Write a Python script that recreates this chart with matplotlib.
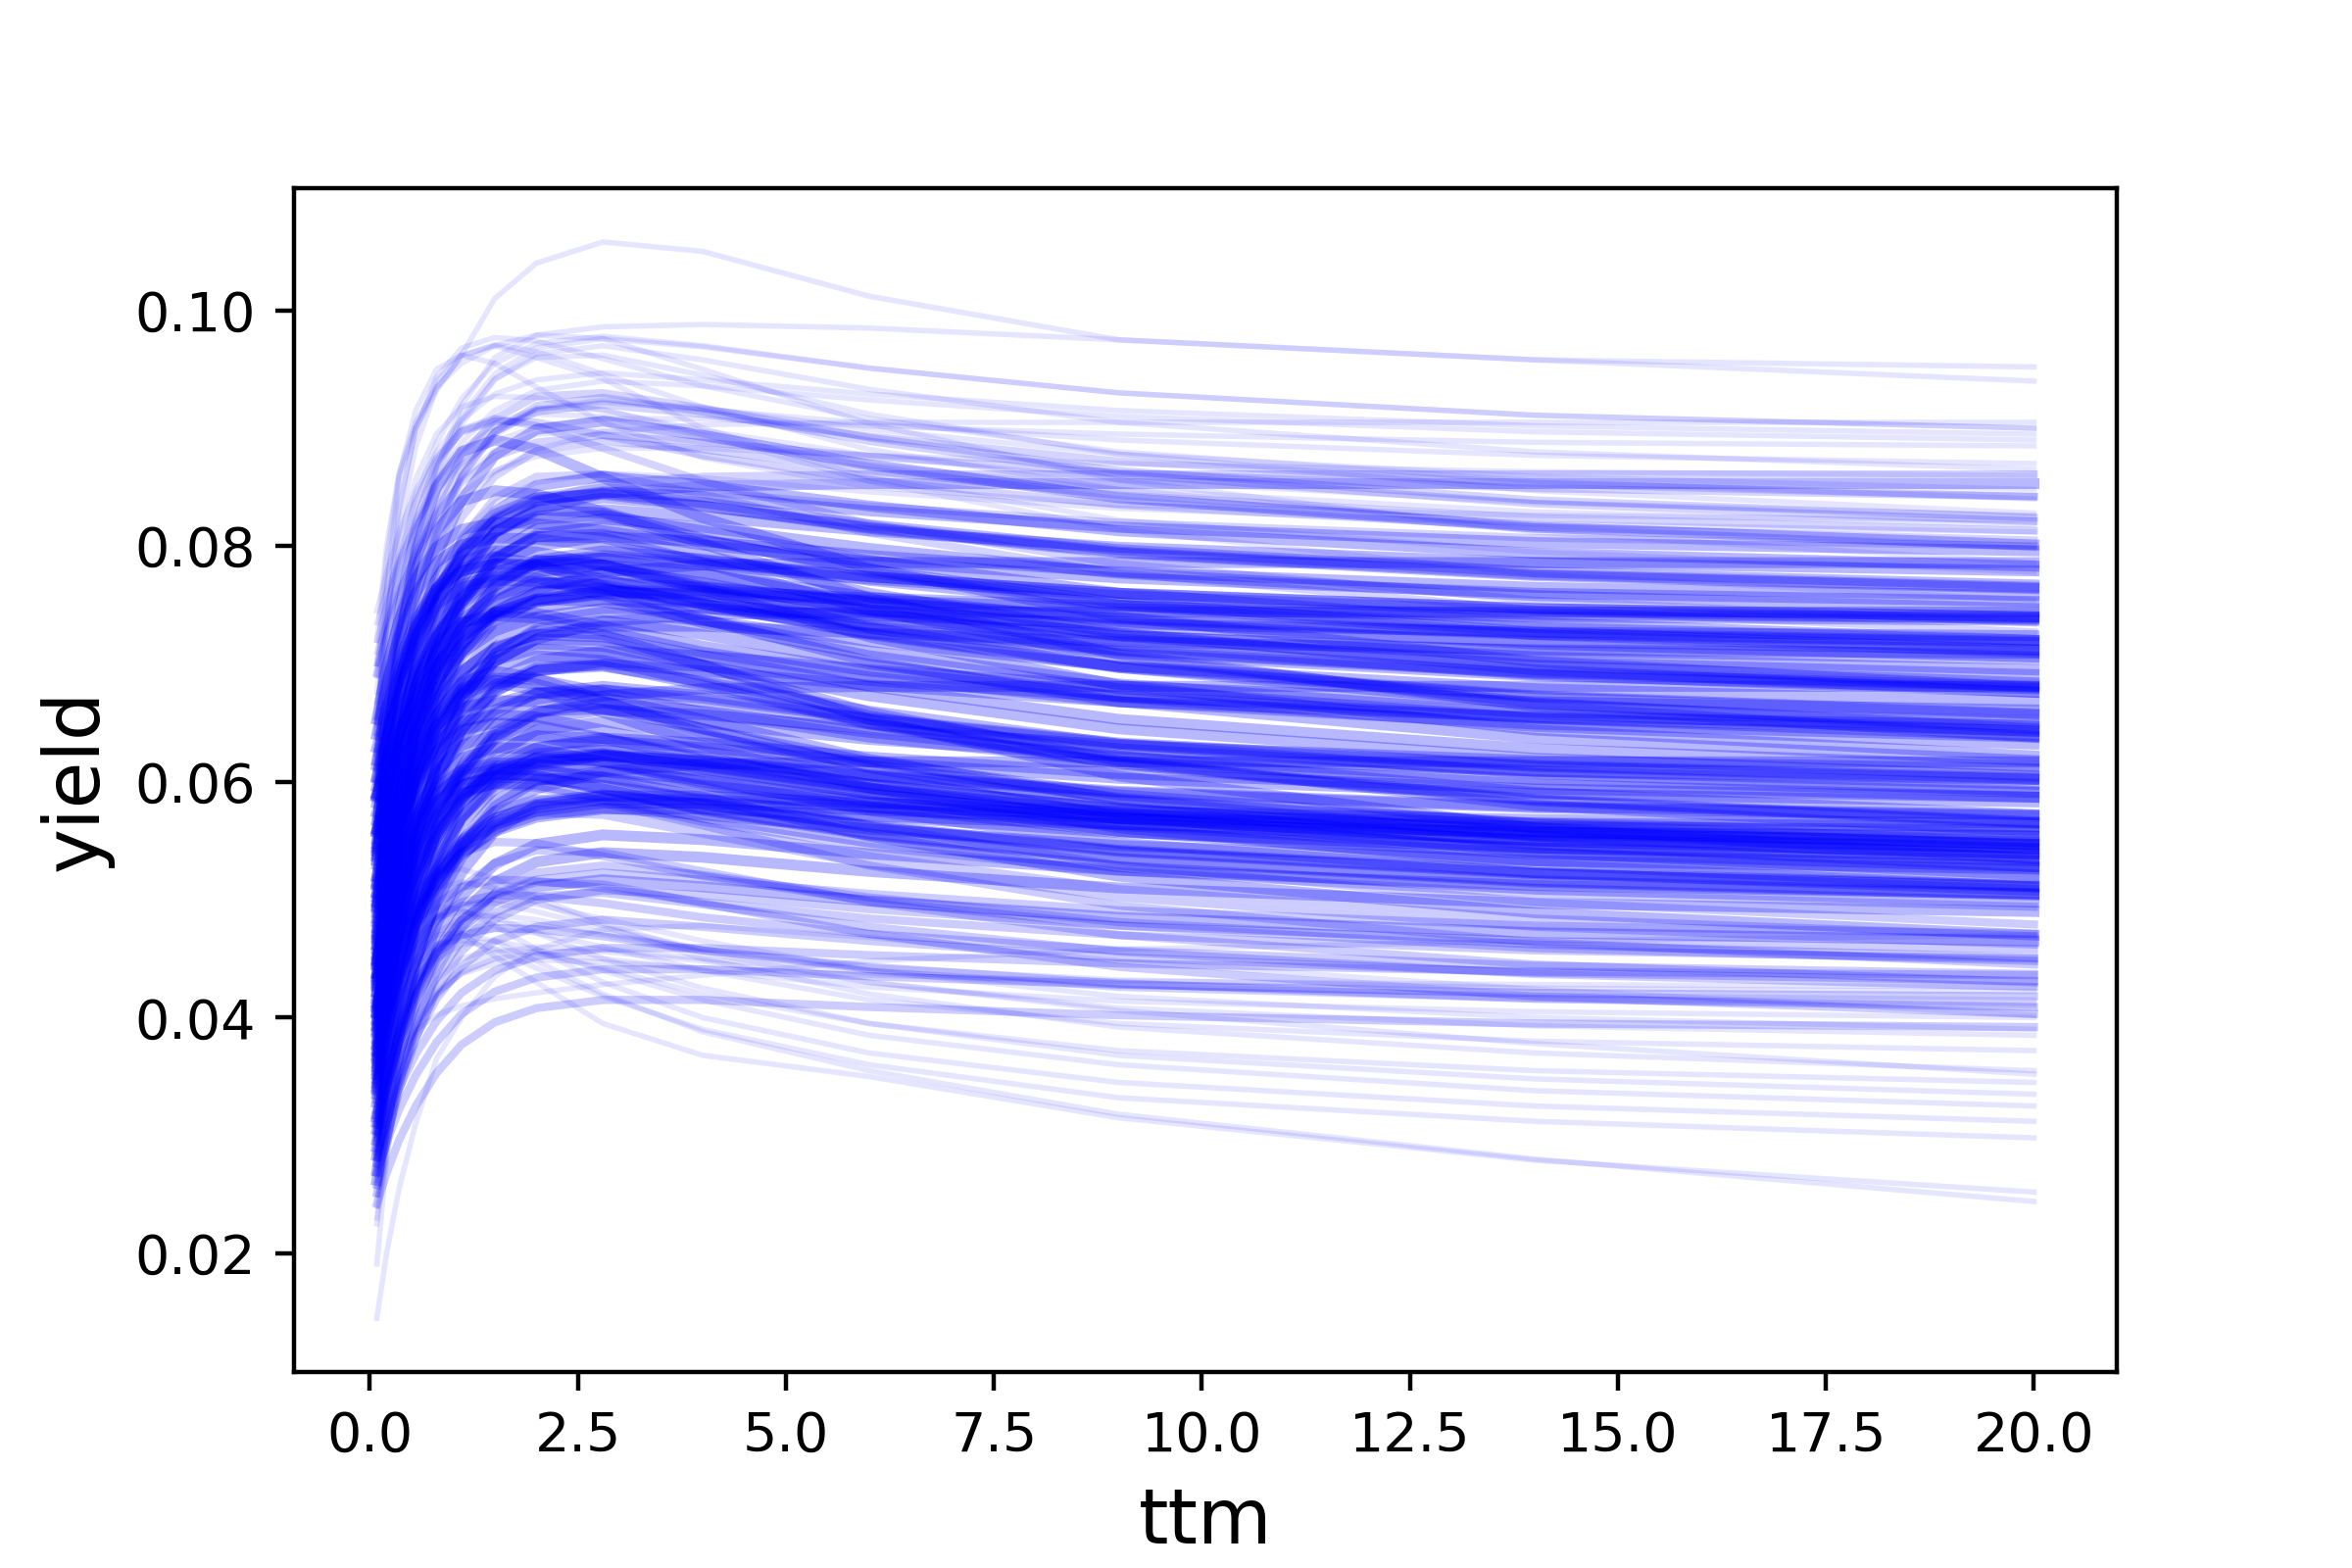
import numpy as np
import matplotlib
matplotlib.use("Agg")
import matplotlib.pyplot as plt

ttm = [1 / 12, 0.2, 0.35, 0.55, 0.8, 1.1, 1.5, 2.0, 2.8, 4.0, 6.0, 9.0, 14.0, 20.0]

# yields in basis points (1 bp = 0.0001); one row per curve, one value per ttm
core_high = [
    [600, 639, 680, 724, 765, 798, 825, 842, 850, 846, 834, 820, 807, 800],
    [563, 614, 669, 727, 780, 824, 859, 881, 889, 882, 864, 843, 824, 813],
    [642, 687, 733, 784, 829, 867, 897, 914, 920, 912, 893, 872, 853, 842],
    [655, 721, 781, 836, 874, 897, 906, 905, 894, 877, 856, 835, 816, 805],
    [585, 671, 751, 821, 871, 898, 908, 902, 883, 855, 819, 785, 754, 735],
    [692, 724, 758, 794, 827, 854, 876, 888, 894, 888, 876, 862, 849, 842],
    [571, 627, 689, 753, 811, 859, 897, 919, 926, 914, 889, 861, 836, 821],
    [624, 673, 728, 784, 835, 876, 908, 927, 930, 917, 892, 864, 839, 824],
    [527, 582, 642, 704, 760, 806, 841, 859, 861, 844, 811, 777, 746, 727],
    [611, 645, 682, 722, 759, 791, 819, 838, 853, 859, 861, 861, 861, 861],
]

core_upper = [
    [512, 551, 592, 636, 677, 710, 737, 754, 762, 758, 746, 732, 719, 712],
    [533, 584, 639, 697, 750, 794, 829, 851, 859, 852, 834, 813, 794, 783],
    [506, 551, 597, 648, 693, 731, 761, 778, 784, 776, 757, 736, 717, 706],
    [545, 611, 671, 726, 764, 787, 796, 795, 784, 767, 746, 725, 706, 695],
    [574, 600, 628, 657, 685, 709, 728, 740, 747, 747, 741, 734, 727, 724],
    [520, 569, 624, 680, 731, 772, 804, 823, 826, 813, 788, 760, 735, 720],
    [590, 622, 656, 692, 725, 752, 774, 786, 792, 786, 774, 760, 747, 740],
    [476, 531, 591, 653, 709, 755, 790, 808, 810, 793, 760, 726, 695, 676],
    [618, 662, 702, 738, 764, 779, 785, 784, 778, 766, 752, 738, 725, 718],
    [497, 548, 603, 661, 714, 758, 793, 815, 823, 816, 798, 777, 758, 747],
    [558, 597, 638, 682, 723, 756, 783, 800, 808, 804, 792, 778, 765, 758],
    [462, 518, 580, 644, 702, 750, 788, 810, 817, 805, 780, 752, 727, 712],
    [560, 635, 706, 769, 813, 838, 847, 844, 829, 806, 778, 750, 725, 710],
    [603, 637, 674, 714, 751, 783, 811, 830, 845, 851, 853, 853, 853, 853],
    [445, 506, 572, 640, 702, 752, 789, 808, 807, 786, 746, 705, 667, 645],
    [582, 636, 686, 731, 761, 779, 785, 783, 772, 754, 733, 712, 693, 682],
    [541, 579, 618, 661, 699, 730, 754, 768, 771, 761, 742, 721, 702, 691],
    [468, 554, 634, 704, 754, 781, 791, 785, 766, 738, 702, 668, 637, 618],
    [515, 566, 621, 679, 732, 776, 811, 833, 841, 834, 816, 795, 776, 765],
    [587, 613, 641, 670, 698, 722, 741, 753, 760, 760, 754, 747, 740, 737],
    [438, 505, 576, 651, 718, 771, 812, 831, 828, 802, 756, 708, 664, 638],
    [567, 612, 658, 709, 754, 792, 822, 839, 845, 837, 818, 797, 778, 767],
    [629, 661, 695, 731, 764, 791, 813, 825, 831, 825, 813, 799, 786, 779],
    [493, 559, 619, 674, 712, 735, 744, 743, 732, 715, 694, 673, 654, 643],
    [551, 607, 669, 733, 791, 839, 877, 899, 906, 894, 869, 841, 816, 801],
    [505, 541, 580, 621, 657, 685, 706, 717, 715, 699, 673, 645, 620, 605],
    [640, 684, 724, 760, 786, 801, 807, 806, 800, 788, 774, 760, 747, 740],
    [470, 521, 576, 634, 687, 731, 766, 788, 796, 789, 771, 750, 731, 720],
    [422, 483, 549, 617, 679, 729, 766, 785, 784, 763, 723, 682, 644, 622],
    [596, 635, 676, 720, 761, 794, 821, 838, 846, 842, 830, 816, 803, 796],
    [530, 626, 716, 795, 850, 880, 890, 882, 858, 824, 781, 740, 702, 680],
    [484, 533, 588, 644, 695, 736, 768, 787, 790, 777, 752, 724, 699, 684],
    [547, 589, 633, 680, 721, 754, 778, 788, 784, 765, 731, 697, 666, 647],
    [614, 652, 691, 734, 772, 803, 827, 841, 844, 834, 815, 794, 775, 764],
    [536, 570, 607, 647, 684, 716, 744, 763, 778, 784, 786, 786, 786, 786],
]

core_middle = [
    [452, 491, 532, 576, 617, 650, 677, 694, 702, 698, 686, 672, 659, 652],
    [418, 469, 524, 582, 635, 679, 714, 736, 744, 737, 719, 698, 679, 668],
    [403, 448, 494, 545, 590, 628, 658, 675, 681, 673, 654, 633, 614, 603],
    [437, 503, 563, 618, 656, 679, 688, 687, 676, 659, 638, 617, 598, 587],
    [559, 585, 613, 642, 670, 694, 713, 725, 732, 732, 726, 719, 712, 709],
    [392, 441, 496, 552, 603, 644, 676, 695, 698, 685, 660, 632, 607, 592],
    [498, 530, 564, 600, 633, 660, 682, 694, 700, 694, 682, 668, 655, 648],
    [365, 420, 480, 542, 598, 644, 679, 697, 699, 682, 649, 615, 584, 565],
    [604, 648, 688, 724, 750, 765, 771, 770, 764, 752, 738, 724, 711, 704],
    [382, 438, 500, 564, 622, 670, 708, 730, 737, 725, 700, 672, 647, 632],
    [461, 500, 541, 585, 626, 659, 686, 703, 711, 707, 695, 681, 668, 661],
    [335, 402, 473, 548, 615, 668, 709, 728, 725, 699, 653, 605, 561, 535],
    [489, 564, 635, 698, 742, 767, 776, 773, 758, 735, 707, 679, 654, 639],
    [494, 528, 565, 605, 642, 674, 702, 721, 736, 742, 744, 744, 744, 744],
    [358, 419, 485, 553, 615, 665, 702, 721, 720, 699, 659, 618, 580, 558],
    [447, 501, 551, 596, 626, 644, 650, 648, 637, 619, 598, 577, 558, 547],
    [513, 549, 588, 629, 665, 693, 714, 725, 723, 707, 681, 653, 628, 613],
    [371, 457, 537, 607, 657, 684, 694, 688, 669, 641, 605, 571, 540, 521],
    [429, 480, 535, 593, 646, 690, 725, 747, 755, 748, 730, 709, 690, 679],
    [589, 615, 643, 672, 700, 724, 743, 755, 762, 762, 756, 749, 742, 739],
    [538, 592, 642, 687, 717, 735, 741, 739, 728, 710, 689, 668, 649, 638],
    [411, 450, 491, 535, 576, 609, 636, 653, 661, 657, 645, 631, 618, 611],
    [466, 508, 552, 599, 640, 673, 697, 707, 703, 684, 650, 616, 585, 566],
    [588, 620, 654, 690, 723, 750, 772, 784, 790, 784, 772, 758, 745, 738],
    [344, 389, 435, 486, 531, 569, 599, 616, 622, 614, 595, 574, 555, 544],
    [557, 593, 632, 673, 709, 737, 758, 769, 767, 751, 725, 697, 672, 657],
    [397, 435, 474, 517, 555, 586, 610, 624, 627, 617, 598, 577, 558, 547],
    [426, 482, 544, 608, 666, 714, 752, 774, 781, 769, 744, 716, 691, 676],
    [653, 697, 737, 773, 799, 814, 820, 819, 813, 801, 787, 773, 760, 753],
    [433, 465, 499, 535, 568, 595, 617, 629, 635, 629, 617, 603, 590, 583],
    [378, 444, 504, 559, 597, 620, 629, 628, 617, 600, 579, 558, 539, 528],
    [519, 558, 599, 643, 684, 717, 744, 761, 769, 765, 753, 739, 726, 719],
    [352, 403, 458, 516, 569, 613, 648, 670, 678, 671, 653, 632, 613, 602],
    [458, 507, 562, 618, 669, 710, 742, 761, 764, 751, 726, 698, 673, 658],
    [543, 579, 618, 659, 695, 723, 744, 755, 753, 737, 711, 683, 658, 643],
    [409, 435, 463, 492, 520, 544, 563, 575, 582, 582, 576, 569, 562, 559],
    [481, 526, 572, 623, 668, 706, 736, 753, 759, 751, 732, 711, 692, 681],
    [448, 486, 525, 568, 606, 637, 661, 675, 678, 668, 649, 628, 609, 598],
    [328, 383, 443, 505, 561, 607, 642, 660, 662, 645, 612, 578, 547, 528],
    [502, 546, 586, 622, 648, 663, 669, 668, 662, 650, 636, 622, 609, 602],
]

core_lower = [
    [372, 411, 452, 496, 537, 570, 597, 614, 622, 618, 606, 592, 579, 572],
    [341, 392, 447, 505, 558, 602, 637, 659, 667, 660, 642, 621, 602, 591],
    [408, 444, 483, 524, 560, 588, 609, 620, 618, 602, 576, 548, 523, 508],
    [355, 421, 481, 536, 574, 597, 606, 605, 594, 577, 556, 535, 516, 505],
    [412, 438, 466, 495, 523, 547, 566, 578, 585, 585, 579, 572, 565, 562],
    [421, 453, 487, 523, 556, 583, 605, 617, 623, 617, 605, 591, 578, 571],
    [318, 367, 422, 478, 529, 570, 602, 621, 624, 611, 586, 558, 533, 518],
    [444, 488, 528, 564, 590, 605, 611, 610, 604, 592, 578, 564, 551, 544],
    [296, 352, 414, 478, 536, 584, 622, 644, 651, 639, 614, 586, 561, 546],
    [387, 426, 467, 511, 552, 585, 612, 629, 637, 633, 621, 607, 594, 587],
    [454, 508, 558, 603, 633, 651, 657, 655, 644, 626, 605, 584, 565, 554],
    [283, 334, 389, 447, 500, 544, 579, 601, 609, 602, 584, 563, 544, 533],
    [399, 474, 545, 608, 652, 677, 686, 683, 668, 645, 617, 589, 564, 549],
    [367, 401, 438, 478, 515, 547, 575, 594, 609, 615, 617, 617, 617, 617],
    [311, 356, 402, 453, 498, 536, 566, 583, 589, 581, 562, 541, 522, 511],
    [435, 477, 521, 568, 609, 642, 666, 676, 672, 653, 619, 585, 554, 535],
    [348, 414, 474, 529, 567, 590, 599, 598, 587, 570, 549, 528, 509, 498],
    [393, 431, 470, 513, 551, 582, 606, 620, 623, 613, 594, 573, 554, 543],
    [305, 344, 385, 429, 470, 503, 530, 547, 555, 551, 539, 525, 512, 505],
    [427, 463, 502, 543, 579, 607, 628, 639, 637, 621, 595, 567, 542, 527],
    [361, 447, 527, 597, 647, 674, 684, 678, 659, 631, 595, 561, 530, 511],
    [415, 441, 469, 498, 526, 550, 569, 581, 588, 588, 582, 575, 568, 565],
    [270, 325, 385, 447, 503, 549, 584, 602, 604, 587, 554, 520, 489, 470],
    [376, 408, 442, 478, 511, 538, 560, 572, 578, 572, 560, 546, 533, 526],
    [449, 493, 533, 569, 595, 610, 616, 615, 609, 597, 583, 569, 556, 549],
    [404, 430, 458, 487, 515, 539, 558, 570, 577, 577, 571, 564, 557, 554],
    [389, 455, 515, 570, 608, 631, 640, 639, 628, 611, 590, 569, 550, 539],
    [290, 329, 370, 414, 455, 488, 515, 532, 540, 536, 524, 510, 497, 490],
    [472, 514, 558, 605, 646, 679, 703, 713, 709, 690, 656, 622, 591, 572],
    [339, 384, 430, 481, 526, 564, 594, 611, 617, 609, 590, 569, 550, 539],
    [404, 458, 508, 553, 583, 601, 607, 605, 594, 576, 555, 534, 515, 504],
    [262, 313, 368, 426, 479, 523, 558, 580, 588, 581, 563, 542, 523, 512],
    [437, 481, 521, 557, 583, 598, 604, 603, 597, 585, 571, 557, 544, 537],
    [431, 465, 502, 542, 579, 611, 639, 658, 673, 679, 681, 681, 681, 681],
    [315, 347, 381, 417, 450, 477, 499, 511, 517, 511, 499, 485, 472, 465],
]

core_low = [
    [303, 339, 378, 419, 455, 483, 504, 515, 513, 497, 471, 443, 418, 403],
    [286, 312, 340, 369, 397, 421, 440, 452, 459, 459, 453, 446, 439, 436],
    [337, 381, 421, 457, 483, 498, 504, 503, 497, 485, 471, 457, 444, 437],
    [258, 297, 338, 382, 423, 456, 483, 500, 508, 504, 492, 478, 465, 458],
    [379, 421, 465, 512, 553, 586, 610, 620, 616, 597, 563, 529, 498, 479],
    [321, 353, 387, 423, 456, 483, 505, 517, 523, 517, 505, 491, 478, 471],
    [276, 314, 353, 396, 434, 465, 489, 503, 506, 496, 477, 456, 437, 426],
    [362, 398, 437, 478, 514, 542, 563, 574, 572, 556, 530, 502, 477, 462],
    [298, 364, 424, 479, 517, 540, 549, 548, 537, 520, 499, 478, 459, 448],
    [345, 387, 431, 478, 519, 552, 576, 586, 582, 563, 529, 495, 464, 445],
    [251, 296, 342, 393, 438, 476, 506, 523, 529, 521, 502, 481, 462, 451],
    [394, 448, 498, 543, 573, 591, 597, 595, 584, 566, 545, 524, 505, 494],
    [309, 353, 393, 429, 455, 470, 476, 475, 469, 457, 443, 429, 416, 409],
    [268, 294, 322, 351, 379, 403, 422, 434, 441, 441, 435, 428, 421, 418],
    [330, 366, 405, 446, 482, 510, 531, 542, 540, 524, 498, 470, 445, 430],
    [412, 466, 516, 561, 591, 609, 615, 613, 602, 584, 563, 542, 523, 512],
    [281, 313, 347, 383, 416, 443, 465, 477, 483, 477, 465, 451, 438, 431],
    [350, 394, 434, 470, 496, 511, 517, 516, 510, 498, 484, 470, 457, 450],
    [242, 268, 296, 325, 353, 377, 396, 408, 415, 415, 409, 402, 395, 392],
    [369, 405, 444, 485, 521, 549, 570, 581, 579, 563, 537, 509, 484, 469],
]

edge_high = [
    [640, 760, 858, 900, 932, 962, 1010, 1040, 1058, 1050, 1012, 975, 958, 952],
    [720, 800, 862, 905, 935, 955, 970, 979, 986, 988, 985, 975, 958, 940],
    [620, 735, 830, 900, 940, 962, 970, 960, 942, 900, 858, 822, 795, 778],
    [700, 745, 791, 842, 887, 925, 955, 972, 978, 970, 951, 930, 911, 900],
    [690, 729, 770, 814, 855, 888, 915, 932, 940, 936, 924, 910, 897, 890],
    [598, 649, 704, 762, 815, 859, 894, 916, 924, 917, 899, 878, 859, 848],
    [720, 752, 786, 822, 855, 882, 904, 916, 922, 916, 904, 890, 877, 870],
    [676, 742, 802, 857, 895, 918, 927, 926, 915, 898, 877, 856, 837, 826],
    [615, 671, 733, 797, 855, 903, 941, 963, 970, 958, 933, 905, 880, 865],
    [710, 736, 764, 793, 821, 845, 864, 876, 883, 883, 877, 870, 863, 860],
    [554, 615, 681, 749, 811, 861, 898, 917, 916, 895, 855, 814, 776, 754],
    [648, 734, 814, 884, 934, 961, 971, 965, 946, 918, 882, 848, 817, 798],
    [690, 765, 836, 899, 943, 968, 977, 974, 959, 936, 908, 880, 855, 840],
    [735, 761, 789, 818, 846, 870, 889, 901, 908, 908, 902, 895, 888, 885],
    [586, 653, 724, 799, 866, 919, 960, 979, 976, 950, 904, 856, 812, 786],
    [628, 683, 743, 805, 861, 907, 942, 960, 962, 945, 912, 878, 847, 828],
    [668, 706, 745, 788, 826, 857, 881, 895, 898, 888, 869, 848, 829, 818],
    [650, 701, 756, 814, 867, 911, 946, 968, 976, 969, 951, 930, 911, 900],
    [700, 736, 775, 816, 852, 880, 901, 912, 910, 894, 868, 840, 815, 800],
    [655, 689, 726, 766, 803, 835, 863, 882, 897, 903, 905, 905, 905, 905],
    [700, 790, 860, 915, 950, 962, 955, 935, 905, 875, 850, 835, 826, 822],
    [745, 777, 811, 847, 880, 907, 929, 941, 947, 941, 929, 915, 902, 895],
    [612, 651, 692, 736, 777, 810, 837, 854, 862, 858, 846, 832, 819, 812],
]

edge_low = [
    [300, 360, 410, 448, 470, 472, 452, 430, 395, 368, 350, 315, 279, 252],
    [282, 345, 398, 438, 462, 470, 465, 448, 420, 388, 355, 318, 280, 244],
    [145, 200, 255, 310, 365, 400, 435, 458, 475, 478, 468, 448, 424, 402],
    [191, 280, 352, 395, 420, 438, 450, 456, 456, 448, 430, 406, 378, 352],
    [300, 340, 368, 389, 402, 410, 416, 421, 428, 436, 448, 458, 465, 470],
    [262, 330, 385, 425, 450, 462, 465, 458, 440, 415, 385, 360, 338, 325],
    [330, 390, 435, 468, 485, 490, 485, 472, 450, 425, 395, 368, 348, 335],
    [240, 300, 355, 400, 432, 450, 458, 455, 442, 420, 395, 372, 355, 345],
    [352, 415, 462, 494, 510, 515, 510, 498, 478, 450, 420, 392, 370, 355],
    [282, 340, 390, 430, 456, 470, 475, 472, 460, 440, 415, 395, 380, 372],
    [310, 370, 420, 458, 484, 496, 500, 496, 484, 465, 440, 418, 400, 390],
    [385, 440, 482, 510, 524, 526, 518, 502, 480, 455, 430, 408, 393, 385],
    [230, 290, 345, 390, 422, 442, 455, 460, 458, 450, 438, 425, 415, 410],
    [272, 335, 388, 430, 458, 474, 480, 479, 470, 456, 440, 427, 419, 415],
    [322, 380, 428, 464, 486, 496, 497, 490, 476, 458, 440, 425, 416, 412],
    [250, 305, 352, 392, 420, 437, 446, 449, 447, 442, 436, 431, 428, 426],
    [292, 355, 408, 448, 472, 484, 487, 483, 472, 458, 443, 432, 425, 422],
    [300, 362, 410, 444, 462, 466, 458, 442, 418, 390, 360, 332, 312, 298],
    [342, 405, 452, 482, 494, 492, 478, 458, 430, 400, 370, 345, 325, 312],
    [225, 285, 340, 385, 418, 438, 450, 454, 450, 440, 426, 414, 405, 400],
]

BP = 1e-4

fig, ax = plt.subplots(figsize=(6, 4), dpi=400)
fig.subplots_adjust(left=0.125, right=0.9, top=0.88, bottom=0.125)

# (group, alpha, linewidth): sparse outer bands are fainter than the dense core
layers = [
    (edge_high, 0.1, 1.0),
    (edge_low, 0.1, 1.0),
    (core_high, 0.17, 1.4),
    (core_low, 0.2, 1.5),
    (core_upper, 0.28, 2.0),
    (core_middle, 0.28, 2.0),
    (core_lower, 0.28, 2.0),
]

for grp, alpha, lw in layers:
    for curve in grp:
        ax.plot(ttm, np.asarray(curve) * BP, color="blue", alpha=alpha, lw=lw)

ax.set_xlabel("ttm", fontsize=14)
ax.set_ylabel("yield", fontsize=14)

fig.savefig("out.png", dpi=400)
